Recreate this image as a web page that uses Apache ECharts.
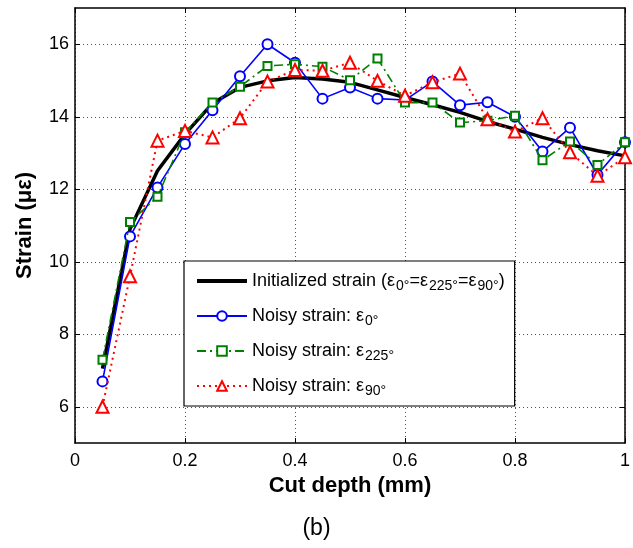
<!DOCTYPE html>
<html>
<head>
<meta charset="utf-8">
<script src="https://cdn.jsdelivr.net/npm/echarts@6/dist/echarts.min.js"></script>
<style>html,body{margin:0;padding:0;background:#fff;}#c{width:633px;height:548px;}</style>
</head>
<body>
<div id="c"></div>
<script>
// ---- data ----
var depth = [0.05,0.10,0.15,0.20,0.25,0.30,0.35,0.40,0.45,0.50,0.55,0.60,0.65,0.70,0.75,0.80,0.85,0.90,0.95,1.00];
var initStrain = [7.05,10.9,12.51,13.52,14.37,14.81,14.99,15.08,15.04,14.95,14.74,14.53,14.33,14.12,13.87,13.66,13.43,13.23,13.06,12.92];
var noisy0   = [6.7,10.7,12.05,13.25,14.18,15.12,16.0,15.49,14.5,14.81,14.5,14.46,14.97,14.32,14.4,14.0,13.04,13.7,12.4,13.3];
var noisy225 = [7.3,11.1,11.79,13.57,14.39,14.83,15.4,15.45,15.38,15.01,15.61,14.39,14.39,13.84,13.89,14.03,12.8,13.32,12.67,13.3];
var noisy90  = [6.0,9.6,13.34,13.61,13.43,13.96,14.97,15.29,15.27,15.49,14.99,14.58,14.95,15.19,13.93,13.59,13.96,13.02,12.37,12.88];
var yTicks = [6,8,10,12,14,16];
var seriesNames = ['init','e0','e225','e90'];
var legendLabels = {
  init: 'Initialized strain (ε{sub|0°}=ε{sub|225°}=ε{sub|90°})',
  e0: 'Noisy strain: ε{sub|0°}',
  e225: 'Noisy strain: ε{sub|225°}',
  e90: 'Noisy strain: ε{sub|90°}'
};

function pairs(ys){ return depth.map(function(x,i){ return [x, ys[i]]; }); }

var FONT = '"Liberation Sans", Arial, Helvetica, sans-serif';
var chart = echarts.init(document.getElementById('c'), null, {renderer:'canvas'});
var gridLine = {show:true, lineStyle:{color:'#555', type:[1,3], width:1}};
var opt = {
  animation:false,
  backgroundColor:'#fff',
  textStyle:{fontFamily:FONT},
  title:{text:'(b)', left:'center', top:517, padding:0, textStyle:{fontFamily:FONT, fontSize:23, fontWeight:'normal', color:'#000'}},
  grid:{left:75, right:7, top:8, bottom:105, containLabel:false},
  xAxis:[{
    type:'value', min:0, max:1, interval:0.2, position:'bottom',
    name:'Cut depth (mm)', nameLocation:'middle', nameGap:30,
    nameTextStyle:{fontFamily:FONT, fontSize:22, fontWeight:'bold', color:'#000'},
    axisLine:{show:true, onZero:false, lineStyle:{color:'#000', width:1.5}},
    axisTick:{show:true, inside:true, length:5, lineStyle:{color:'#000'}},
    axisLabel:{color:'#000', fontSize:18, margin:9, fontFamily:FONT, formatter:function(v){return String(+v.toFixed(1));}},
    splitLine:gridLine
  },{
    type:'value', min:0, max:1, interval:0.2, position:'top',
    axisLine:{show:true, onZero:false, lineStyle:{color:'#000', width:1.5}},
    axisTick:{show:true, inside:true, length:5, lineStyle:{color:'#000'}},
    axisLabel:{show:false}, splitLine:{show:false}
  }],
  yAxis:[{
    type:'value', min:5, max:17, position:'left',
    name:'Strain (με)', nameLocation:'middle', nameGap:39, nameRotate:90,
    nameTextStyle:{fontFamily:FONT, fontSize:22, fontWeight:'bold', color:'#000'},
    axisLine:{show:true, onZero:false, lineStyle:{color:'#000', width:1.5}},
    axisTick:{show:true, inside:true, length:5, customValues:yTicks, lineStyle:{color:'#000'}},
    axisLabel:{color:'#000', fontSize:18, margin:6, fontFamily:FONT, customValues:yTicks},
    splitLine:gridLine
  },{
    type:'value', min:5, max:17, position:'right',
    axisLine:{show:true, onZero:false, lineStyle:{color:'#000', width:1.5}},
    axisTick:{show:true, inside:true, length:5, customValues:yTicks, lineStyle:{color:'#000'}},
    axisLabel:{show:false}, splitLine:{show:false}
  }],
  legend:{
    orient:'vertical', left:184, top:261,
    data:[{name:'init', itemStyle:{opacity:0}, lineStyle:{width:4}}, 'e0', 'e225', 'e90'],
    backgroundColor:'#fff', borderColor:'#000', borderWidth:1.2,
    padding:[8,10,8,11], itemGap:11, itemWidth:50, itemHeight:12,
    formatter:function(n){ return legendLabels[n]; },
    textStyle:{fontFamily:FONT, fontSize:18, color:'#000', lineHeight:20,
      rich:{sub:{fontFamily:FONT, fontSize:14, color:'#000', lineHeight:14, padding:[10,0,0,1]}}}
  },
  series:[
    {name:'init', type:'line', data:pairs(initStrain), showSymbol:false, symbol:'none',
      lineStyle:{color:'#000', width:3.5}, itemStyle:{color:'#000'}, z:2},
    {name:'e0', type:'line', data:pairs(noisy0), symbol:'emptyCircle', symbolSize:10,
      lineStyle:{color:'#0000ff', width:1.6}, itemStyle:{color:'#0000ff', borderWidth:1.6}, z:3},
    {name:'e225', type:'line', data:pairs(noisy225), symbol:'emptyRect', symbolSize:8,
      lineStyle:{color:'#008000', width:1.6, type:[9,4,2,4]}, itemStyle:{color:'#008000', borderWidth:1.6}, z:4},
    {name:'e90', type:'line', data:pairs(noisy90), symbol:'emptyTriangle', symbolSize:12,
      lineStyle:{color:'#ff0000', width:2, type:[2,4]}, itemStyle:{color:'#ff0000', borderWidth:2}, z:5}
  ]
};
chart.setOption(opt);
</script>
</body>
</html>
